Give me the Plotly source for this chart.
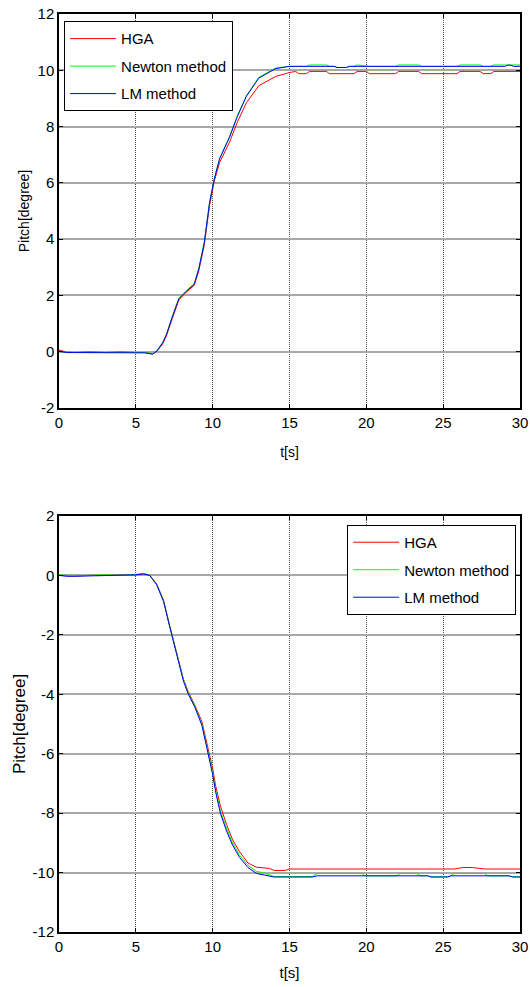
import plotly.graph_objects as go

# ---- upper panel: positive pitch step ----
t_up = [0, 0.5, 1, 2, 3, 4, 5, 5.6, 6.1, 6.4, 6.75, 7.0, 7.4, 7.8, 8.25, 8.8,
        9.1, 9.45, 9.8, 10.1, 10.45, 11.1, 11.6, 12.2, 13.0, 14.1,
        15.0, 15.4, 15.6, 16.1, 16.3, 17.4, 17.6, 17.9, 18.1, 18.7, 18.9, 19.2,
        19.4, 20.0, 20.2, 21.9, 22.1, 23.4, 23.6, 25.9, 26.1, 27.4, 27.6, 28.1,
        28.3, 29.0, 29.2, 29.4, 29.6, 30]
hga_up = [0.06, -0.02, -0.03, -0.01, -0.03, -0.01, -0.03, -0.03, -0.08, 0.03,
          0.28, 0.58, 1.22, 1.84, 2.10, 2.36, 2.88, 3.78, 5.20, 6.05, 6.72,
          7.45, 8.15, 8.85, 9.45, 9.78,
          9.92, 9.96, 9.88, 9.88, 9.96, 9.96, 9.88, 9.88, 9.88, 9.88, 9.88, 9.88,
          9.96, 9.96, 9.88, 9.88, 9.96, 9.96, 9.88, 9.88, 9.96, 9.96, 9.88, 9.88,
          9.96, 9.96, 9.96, 9.96, 9.96, 9.96]
newton_up = [0.00, -0.02, -0.03, -0.03, -0.03, -0.02, -0.03, -0.03, -0.07, 0.06,
             0.33, 0.63, 1.30, 1.90, 2.14, 2.42, 2.97, 3.88, 5.32, 6.14, 6.87,
             7.65, 8.38, 9.10, 9.75, 10.08,
             10.14, 10.14, 10.14, 10.14, 10.19, 10.19, 10.14, 10.14, 10.10, 10.10,
             10.14, 10.14, 10.19, 10.14, 10.14, 10.14, 10.19, 10.19, 10.14, 10.14,
             10.19, 10.19, 10.14, 10.14, 10.19, 10.19, 10.19, 10.19, 10.19, 10.19]
lm_up = [0.02, -0.03, -0.03, -0.03, -0.03, -0.03, -0.03, -0.04, -0.09, 0.05,
         0.32, 0.62, 1.28, 1.88, 2.13, 2.40, 2.95, 3.86, 5.30, 6.12, 6.85,
         7.62, 8.35, 9.08, 9.72, 10.06,
         10.14, 10.14, 10.14, 10.14, 10.14, 10.14, 10.14, 10.14, 10.10, 10.10,
         10.14, 10.14, 10.14, 10.14, 10.14, 10.14, 10.14, 10.14, 10.14, 10.14,
         10.14, 10.14, 10.14, 10.14, 10.14, 10.14, 10.18, 10.18, 10.14, 10.14]

# ---- lower panel: negative pitch step ----
t_dn = [0, 0.5, 1, 2, 3, 4, 5, 5.5, 5.9, 6.35, 6.8, 7.2, 7.65, 8.1, 8.4, 8.85,
        9.3, 9.7, 10.0, 10.2, 10.5, 10.9, 11.3, 11.75, 12.3, 12.85, 13.4, 13.7,
        14.0, 14.7, 15.0, 16.5, 16.8, 19.7, 19.9, 22.0, 22.2, 23.3, 23.5, 24.0,
        24.2, 25.3, 25.5, 25.7, 26.3, 26.9, 27.7, 27.9, 29.3, 29.5, 30]
hga_dn = [0.00, -0.02, -0.02, 0.00, 0.00, 0.01, 0.02, 0.05, 0.01, -0.28,
          -0.83, -1.68, -2.60, -3.50, -3.90, -4.38, -4.92, -5.80, -6.50, -7.10,
          -7.75, -8.38, -8.90, -9.30, -9.68, -9.82, -9.84, -9.86,
          -9.93, -9.93, -9.88, -9.88, -9.88, -9.88, -9.88, -9.88, -9.88, -9.88,
          -9.88, -9.88, -9.88, -9.88, -9.88, -9.88, -9.83, -9.83, -9.88, -9.88,
          -9.88, -9.88, -9.88]
newton_dn = [0.02, 0.00, -0.01, 0.00, 0.02, 0.01, 0.03, 0.07, 0.01, -0.30,
             -0.85, -1.70, -2.60, -3.52, -3.95, -4.42, -5.02, -5.90, -6.65, -7.25,
             -7.92, -8.50, -9.00, -9.42, -9.76, -9.96, -10.02, -10.08,
             -10.13, -10.13, -10.13, -10.13, -10.03, -10.03, -10.11, -10.11,
             -10.03, -10.03, -10.11, -10.11, -10.14, -10.14, -10.11, -10.03,
             -10.03, -10.03, -10.03, -10.11, -10.11, -10.14, -10.14]
lm_dn = [0.00, -0.03, -0.03, -0.02, 0.00, 0.00, 0.02, 0.05, 0.00, -0.31,
         -0.87, -1.72, -2.64, -3.56, -3.98, -4.45, -5.05, -5.95, -6.70, -7.30,
         -8.00, -8.60, -9.08, -9.49, -9.83, -10.03, -10.08, -10.12,
         -10.15, -10.15, -10.15, -10.15, -10.11, -10.11, -10.11, -10.11,
         -10.11, -10.11, -10.11, -10.11, -10.15, -10.15, -10.11, -10.11,
         -10.11, -10.11, -10.11, -10.11, -10.11, -10.15, -10.15]

names = ["HGA", "Newton method", "LM method"]
colors = ["#ff0000", "#00ff00", "#0000ff"]
x_ticks = [0, 5, 10, 15, 20, 25, 30]
y_ticks_up = [-2, 0, 2, 4, 6, 8, 10, 12]
y_ticks_dn = [-12, -10, -8, -6, -4, -2, 0, 2]

FONT = "Liberation Sans, Arial, sans-serif"

fig = go.Figure()
for name, color, y in zip(names, colors, [hga_up, newton_up, lm_up]):
    fig.add_trace(go.Scatter(x=t_up, y=y, mode="lines", name=name,
                             line=dict(color=color, width=1),
                             xaxis="x", yaxis="y", legend="legend",
                             legendgroup="u" + name))
for name, color, y in zip(names, colors, [hga_dn, newton_dn, lm_dn]):
    fig.add_trace(go.Scatter(x=t_dn, y=y, mode="lines", name=name,
                             line=dict(color=color, width=1),
                             xaxis="x2", yaxis="y2", legend="legend2",
                             legendgroup="d" + name))

tickfont = dict(size=15, color="black", family=FONT)


def x_axis(anchor, title_size, standoff):
    return dict(range=[0, 30], tickvals=x_ticks,
                ticktext=[str(v) for v in x_ticks], anchor=anchor, domain=[0, 1],
                showline=True, linecolor="black", linewidth=1.5, mirror="ticks",
                ticks="inside", ticklen=4, tickcolor="black", showgrid=True,
                gridcolor="#4d4d4d", griddash="1px,1px", gridwidth=1,
                zeroline=False, automargin=False, tickfont=tickfont,
                title=dict(text="t[s]", standoff=standoff,
                           font=dict(size=title_size, color="black", family=FONT)))


def y_axis(anchor, domain, rng, ticks, title_size, standoff):
    return dict(range=rng, tickvals=ticks, ticktext=[str(v) for v in ticks],
                anchor=anchor, domain=domain,
                showline=True, linecolor="black", linewidth=1.5, mirror="ticks",
                ticks="inside", ticklen=4, tickcolor="black", showgrid=True,
                gridcolor="#a8a8a8", gridwidth=1.5, zeroline=False,
                automargin=False, tickfont=tickfont,
                title=dict(text="Pitch[degree]", standoff=standoff,
                           font=dict(size=title_size, color="black", family=FONT)))


legend_common = dict(bgcolor="white", bordercolor="black", borderwidth=1,
                     font=dict(size=15, color="black", family=FONT),
                     traceorder="grouped", tracegroupgap=5, itemwidth=46,
                     xanchor="left", yanchor="top")

fig.update_layout(
    width=530, height=987,
    margin=dict(l=59, r=10, t=14, b=55),
    paper_bgcolor="white", plot_bgcolor="white",
    font=dict(family=FONT, color="black"),
    xaxis=x_axis("y", 14, 17),
    yaxis=y_axis("x", [0.5708, 1], [-2, 12], y_ticks_up, 14, 5),
    xaxis2=x_axis("y2", 15, 14),
    yaxis2=y_axis("x2", [0, 0.4532], [-12, 2], y_ticks_dn, 17, 3),
    legend=dict(x=0.011, y=0.992, **legend_common),
    legend2=dict(x=0.625, y=0.4434, **legend_common),
    showlegend=True,
)

fig.write_html("out.html")
